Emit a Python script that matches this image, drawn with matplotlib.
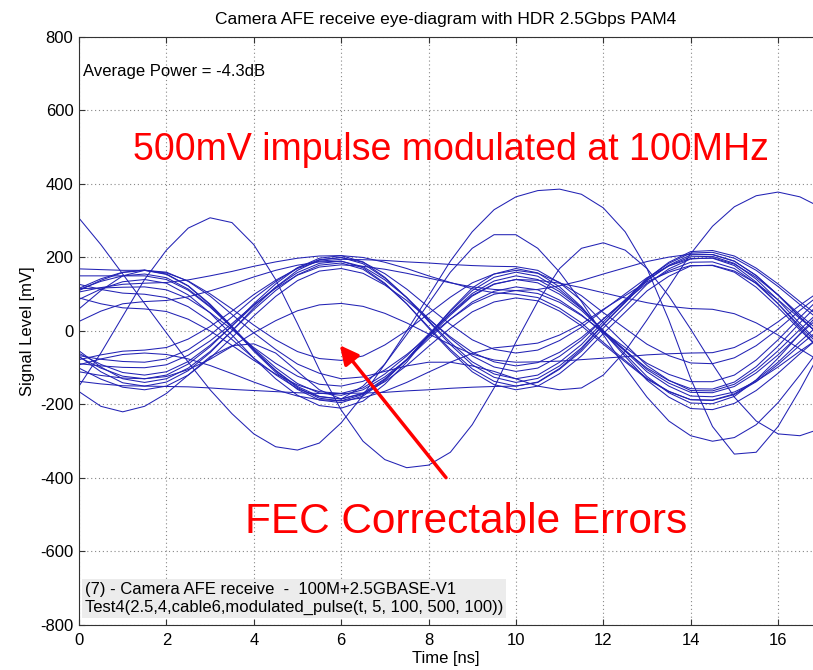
import numpy as np
import matplotlib
matplotlib.use("Agg")
import matplotlib.pyplot as plt

plt.rcParams['font.family'] = ['Liberation Sans', 'DejaVu Sans']
plt.rcParams['axes.unicode_minus'] = False

# sample instants of the captured traces [ns]
t_ns = np.linspace(0, 17, 35)

# eye traces [mV], one value every 0.5 ns
trace_01 = [116, 142, 160, 166, 155, 123, 73, 13, -51, -108, -154, -183, -190, -173, -132, -78, -13, 48, 102, 136, 150, 140, 107, 61, 1, -55, -111, -150, -177, -179, -166, -137, -98, -55, -14]
trace_02 = [110, 138, 159, 165, 154, 122, 71, 10, -55, -112, -159, -188, -195, -177, -135, -78, -10, 54, 110, 146, 160, 149, 113, 63, -2, -63, -124, -168, -196, -198, -178, -133, -74, -8, 55]
trace_03 = [150, 150, 150, 150, 140, 111, 65, 10, -48, -100, -143, -169, -175, -160, -125, -78, -22, 32, 79, 108, 120, 112, 84, 44, -6, -54, -101, -135, -157, -158, -139, -97, -41, 22, 82]
trace_04 = [86, 114, 134, 140, 130, 98, 49, -11, -74, -130, -175, -203, -210, -191, -145, -85, -12, 56, 117, 155, 170, 158, 120, 66, -3, -69, -134, -180, -211, -214, -197, -162, -115, -62, -11]
trace_05 = [115, 117, 119, 120, 112, 88, 50, 4, -45, -88, -123, -145, -150, -137, -106, -64, -15, 32, 74, 100, 110, 102, 78, 42, -2, -45, -88, -118, -138, -138, -120, -79, -24, 37, 95]
trace_06 = [-69, -111, -141, -150, -139, -108, -59, 0, 63, 119, 165, 193, 200, 183, 144, 91, 28, -31, -84, -117, -130, -120, -85, -37, 25, 84, 143, 184, 212, 214, 198, 165, 121, 72, 25]
trace_07 = [-61, -91, -113, -120, -111, -83, -39, 13, 69, 119, 159, 184, 190, 175, 139, 91, 34, -20, -68, -98, -110, -101, -69, -25, 32, 85, 139, 177, 202, 203, 184, 141, 84, 20, -40]
trace_08 = [-54, -98, -130, -140, -130, -101, -56, 0, 58, 110, 153, 179, 185, 168, 128, 74, 11, -50, -103, -137, -150, -139, -102, -50, 17, 79, 142, 187, 216, 219, 204, 171, 128, 80, 34]
trace_09 = [-101, -131, -153, -160, -150, -120, -74, -18, 41, 94, 137, 163, 170, 157, 125, 83, 32, -16, -58, -84, -95, -86, -58, -18, 33, 82, 130, 164, 187, 188, 170, 129, 74, 13, -45]
trace_10 = [-67, -77, -83, -85, -76, -51, -11, 38, 89, 134, 172, 194, 200, 187, 156, 114, 65, 18, -24, -50, -60, -52, -26, 10, 57, 101, 145, 177, 197, 198, 178, 133, 74, 8, -55]
trace_11 = [127, 113, 103, 100, 91, 66, 26, -23, -74, -119, -157, -179, -185, -171, -138, -94, -42, 8, 52, 79, 90, 82, 54, 14, -36, -84, -131, -165, -187, -189, -173, -138, -91, -39, 10]
trace_12 = [90, 74, 63, 60, 53, 32, 0, -39, -80, -117, -147, -165, -170, -155, -117, -68, -9, 47, 97, 128, 140, 138, 130, 118, 104, 90, 77, 67, 61, 59, 47, 22, -11, -49, -85]
trace_13 = [-78, -65, -55, -52, -45, -22, 12, 54, 99, 138, 170, 190, 195, 194, 192, 188, 185, 181, 178, 176, 175, 165, 131, 83, 22, -36, -94, -134, -162, -163, -145, -106, -54, 4, 59]
trace_14 = [-137, -144, -149, -150, -151, -152, -155, -159, -162, -165, -168, -170, -170, -169, -167, -163, -160, -156, -153, -151, -150, -140, -104, -55, 8, 67, 127, 169, 196, 199, 182, 146, 98, 44, -7]
trace_15 = [106, 118, 127, 130, 132, 139, 150, 162, 176, 188, 198, 204, 205, 200, 187, 170, 150, 132, 115, 104, 100, 91, 62, 22, -31, -80, -129, -164, -187, -188, -171, -134, -85, -29, 24]
trace_16 = [-111, -121, -128, -130, -124, -105, -77, -42, -5, 28, 55, 71, 75, 67, 48, 22, -8, -37, -63, -79, -85, -84, -82, -78, -74, -70, -65, -62, -60, -59, -45, -15, 25, 70, 112]
trace_17 = [169, 167, 165, 165, 158, 136, 101, 60, 16, -24, -56, -75, -80, -68, -38, 1, 47, 92, 131, 155, 165, 157, 132, 96, 50, 7, -36, -67, -87, -89, -73, -40, 5, 56, 103]
trace_18 = [-92, -76, -64, -60, -64, -76, -94, -116, -139, -160, -177, -187, -190, -182, -164, -140, -112, -85, -61, -46, -40, -33, -11, 19, 59, 96, 134, 160, 178, 178, 160, 119, 64, 3, -55]
trace_19 = [-89, -95, -99, -100, -92, -66, -27, 20, 71, 116, 152, 174, 180, 176, 168, 157, 144, 131, 120, 113, 110, 113, 123, 137, 155, 172, 189, 201, 209, 208, 190, 151, 98, 38, -18]
trace_20 = [113, 135, 150, 155, 145, 114, 67, 9, -52, -107, -151, -178, -185, -169, -130, -78, -16, 43, 95, 127, 140, 131, 100, 56, 0, -52, -105, -142, -167, -168, -151, -114, -65, -9, 44]
trace_21 = [-71, -101, -123, -130, -120, -90, -43, 14, 74, 128, 172, 198, 205, 188, 146, 91, 26, -37, -92, -126, -140, -129, -95, -46, 18, 77, 137, 179, 207, 208, 190, 151, 98, 38, -18]
trace_22 = [26, 54, 74, 80, 83, 93, 109, 127, 147, 165, 179, 188, 190, 172, 130, 74, 8, -55, -111, -146, -160, -150, -116, -68, -7, 51, 109, 149, 177, 179, 163, 130, 85, 34, -13]

# large excursions caused by the 500mV impulse
error_01 = [307, 235, 155, 75, -5, -85, -160, -225, -280, -315, -324, -305, -250, -175, -90, 0, 95, 190, 270, 330, 365, 382, 386, 372, 335, 270, 170, 30, -130, -260, -335, -330, -260, -160, -50]
error_02 = [-150, -60, 40, 140, 220, 280, 308, 295, 235, 140, 20, -105, -215, -300, -350, -372, -365, -330, -255, -155, -30, 80, 170, 225, 240, 220, 170, 95, 5, -90, -180, -245, -280, -285, -265]
error_03 = [-165, -205, -220, -205, -170, -120, -70, -40, -35, -60, -110, -160, -185, -150, -90, -10, 75, 160, 225, 262, 262, 225, 160, 80, -10, -100, -180, -245, -285, -300, -290, -255, -195, -120, -40]
error_04 = [60, 110, 150, 165, 160, 135, 95, 45, -5, -50, -90, -115, -130, -125, -110, -95, -85, -85, -95, -110, -130, -150, -160, -155, -120, -55, 30, 120, 210, 285, 338, 368, 378, 365, 335]

eye_traces = [trace_01, trace_02, trace_03, trace_04, trace_05, trace_06, trace_07,
              trace_08, trace_09, trace_10, trace_11, trace_12, trace_13, trace_14,
              trace_15, trace_16, trace_17, trace_18, trace_19, trace_20, trace_21,
              trace_22, error_01, error_02, error_03, error_04]

x_ticks = [0, 2, 4, 6, 8, 10, 12, 14, 16]
y_ticks = [-800, -600, -400, -200, 0, 200, 400, 600, 800]

fig = plt.figure(figsize=(8.13, 6.70), dpi=100)
ax = fig.add_axes([0.0972, 0.0672, 0.9028, 0.8776])

for tr in eye_traces:
    ax.plot(t_ns, tr, color='#2222b4', lw=0.75, solid_joinstyle='round')

ax.set_xlim(0, 16.8)
ax.set_ylim(-800, 800)
ax.set_xticks(x_ticks)
ax.set_yticks(y_ticks)
ax.tick_params(direction='in', length=4, labelsize=12, top=True, right=False, color='#333333')
ax.tick_params(axis='x', pad=6)
ax.tick_params(axis='y', pad=4)
ax.grid(True, linestyle=(0, (1, 2.5)), color='#888888', lw=0.8)
ax.spines['right'].set_visible(False)
for s in ['left', 'bottom', 'top']:
    ax.spines[s].set_color('#333333')

ax.set_title('Camera AFE receive eye-diagram with HDR 2.5Gbps PAM4', fontsize=12.5, pad=9)
ax.set_xlabel('Time [ns]', fontsize=12, labelpad=2)
ax.set_ylabel('Signal Level [mV]', fontsize=12, labelpad=4)

ax.text(0.09, 705, 'Average Power = -4.3dB', fontsize=12, va='center', ha='left')
ax.text(1.24, 492, '500mV impulse modulated at 100MHz', fontsize=27, color='red', va='center', ha='left')
ax.text(3.8, -520, 'FEC Correctable Errors', fontsize=30.5, color='red', va='center', ha='left')
ax.annotate('', xy=(5.93, -33), xytext=(8.44, -405),
            arrowprops=dict(arrowstyle='-|>', color='red', lw=2.5, mutation_scale=28))
ax.text(0.13, -772, '(7) - Camera AFE receive  -  100M+2.5GBASE-V1\nTest4(2.5,4,cable6,modulated_pulse(t, 5, 100, 500, 100))',
        fontsize=12, va='bottom', ha='left', linespacing=1.2,
        bbox=dict(facecolor='#ececec', edgecolor='none', pad=2))

fig.savefig('out.png', dpi=100)
